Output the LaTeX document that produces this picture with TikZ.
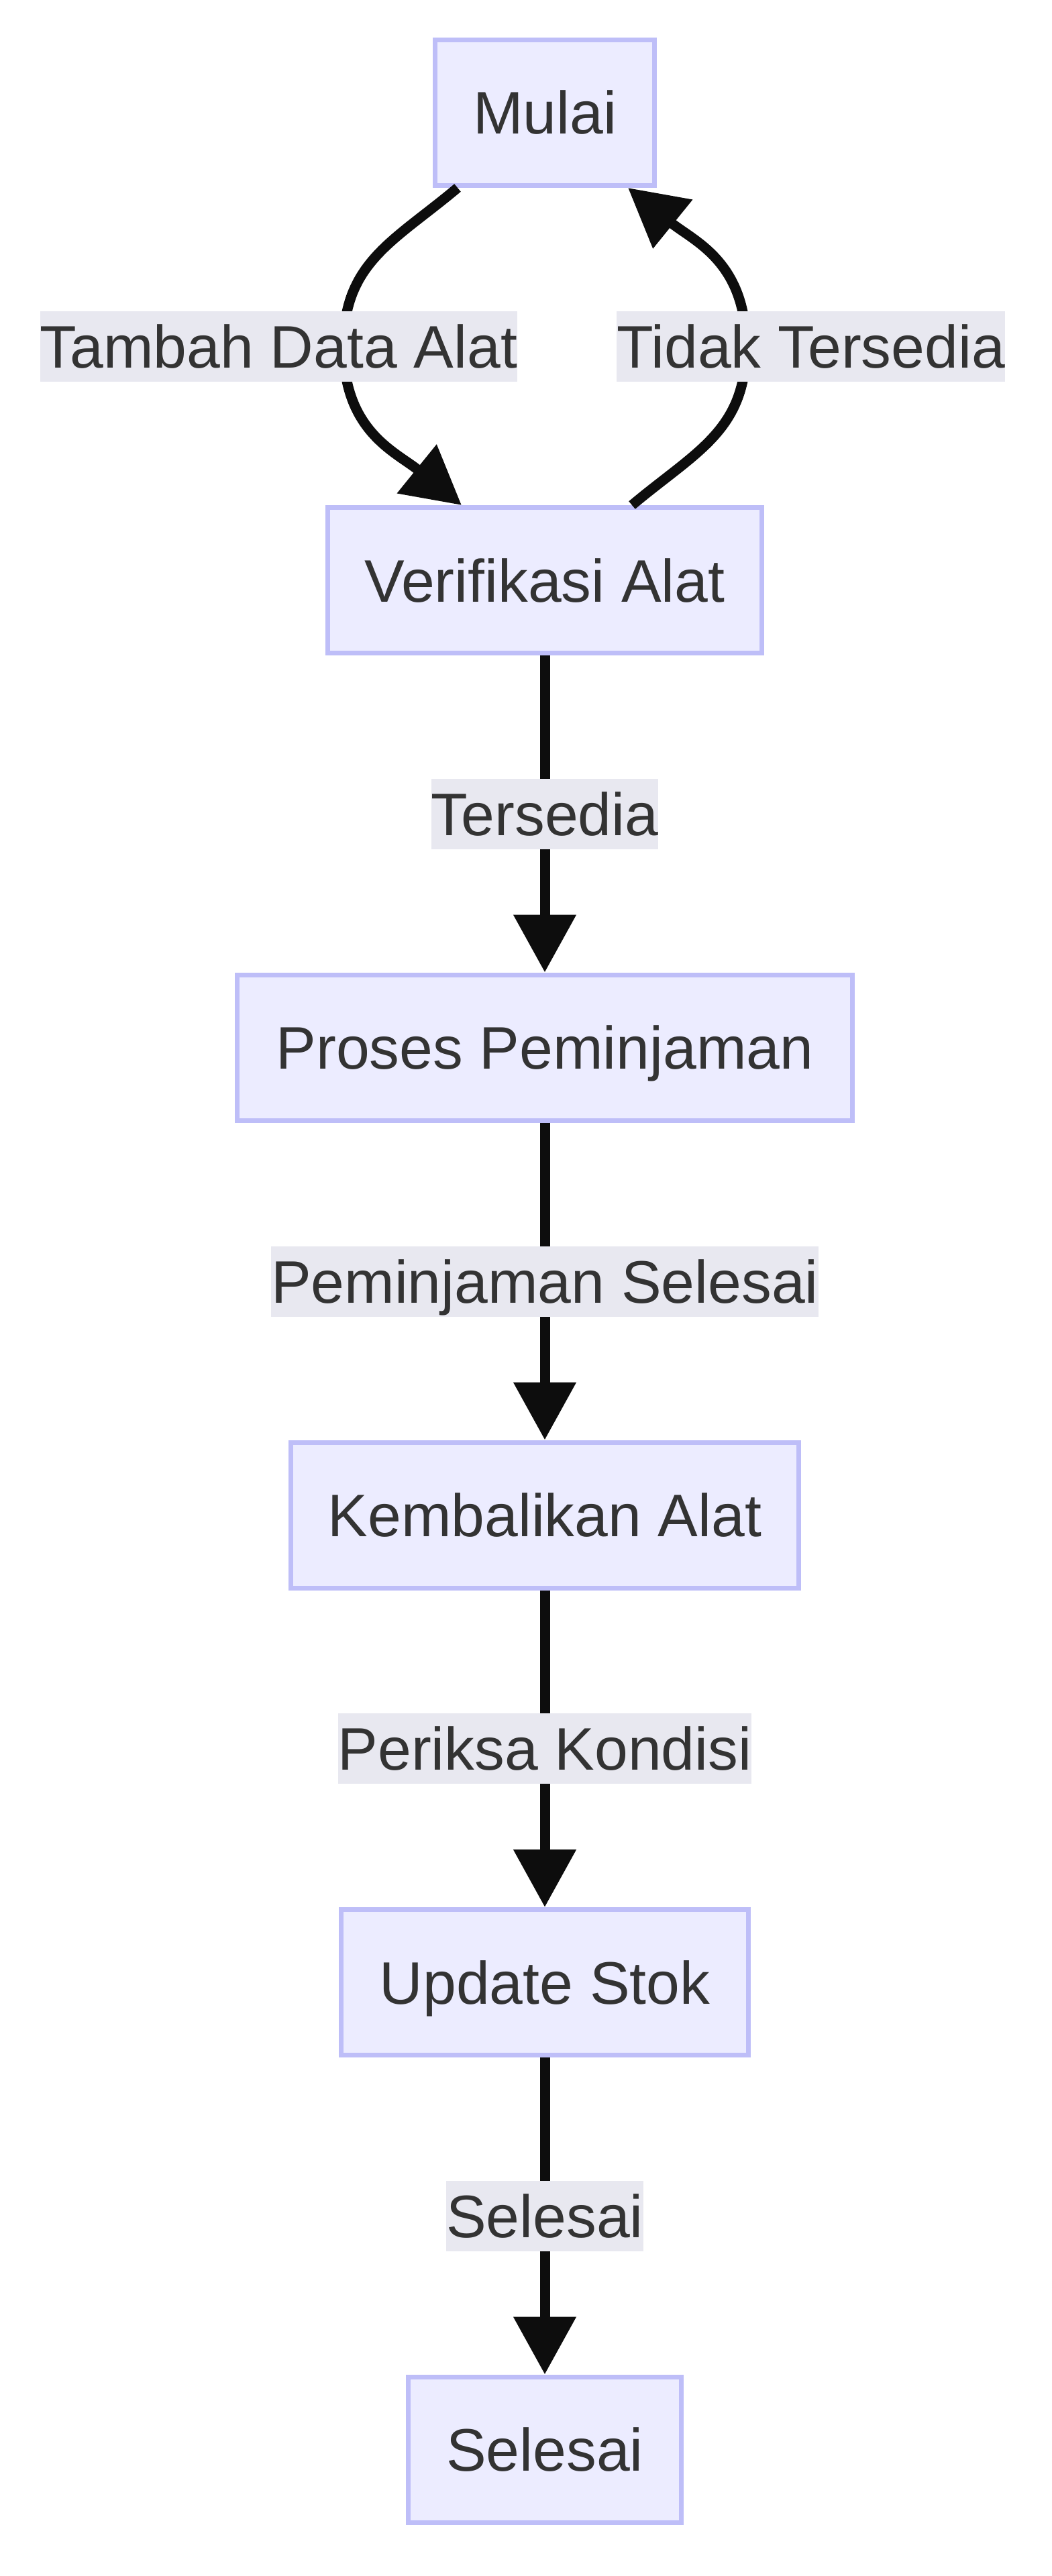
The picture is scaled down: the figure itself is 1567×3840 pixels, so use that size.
\documentclass[tikz,border=0pt]{standalone}
\usepackage{fontspec}
\setmainfont{Liberation Sans}
\usetikzlibrary{arrows.meta}
\definecolor{nodefill}{RGB}{236,236,255}
\definecolor{nodeline}{RGB}{190,190,248}
\definecolor{lblfill}{RGB}{232,232,240}
\definecolor{txt}{RGB}{51,51,51}
\definecolor{edgecol}{RGB}{13,13,13}
\begin{document}
\begin{tikzpicture}[x=1pt,y=1pt,
  box/.style={draw=nodeline, line width=7pt, fill=nodefill, minimum height=217pt,
    inner sep=0pt, text=txt, text height=64pt, text depth=0pt,
    font=\fontsize{89.5}{100}\selectfont},
  lbl/.style={fill=lblfill, inner sep=0pt, minimum height=105pt, text=txt,
    text height=64pt, text depth=0pt, font=\fontsize{89.5}{100}\selectfont},
  arr/.style={draw=edgecol, line width=15pt, -{Triangle[length=86pt,width=90pt]}}]
\fill[white] (0,0) rectangle (1567,-3840);
\useasboundingbox (0,0) rectangle (1567,-3840);

\node[box, minimum width=327pt] (mulai) at (812,-168) {Mulai};
\node[box, minimum width=647pt] (verif) at (812,-865) {Verifikasi Alat};
\node[box, minimum width=917pt] (proses) at (812,-1561.5) {Proses Peminjaman};
\node[box, minimum width=757pt] (kembali) at (812,-2258.5) {Kembalikan Alat};
\node[box, minimum width=607pt] (update) at (812,-2955) {Update Stok};
\node[box, minimum width=407pt] (selesai) at (812,-3651.5) {Selesai};

\coordinate (lmid) at (512,-516.5);
\coordinate (rmid) at (1112,-516.5);

\draw[arr] ([xshift=-130pt]mulai.south) to[out=220,in=90,looseness=1.1] (lmid)
  to[out=-90,in=141,looseness=1.1] ([xshift=-124pt]verif.north);
\draw[arr] ([xshift=130pt]verif.north) to[out=40,in=-90,looseness=1.1] (rmid)
  to[out=90,in=-39,looseness=1.1] ([xshift=124pt]mulai.south);
\draw[arr] (verif) -- (proses);
\draw[arr] (proses) -- (kembali);
\draw[arr] (kembali) -- (update);
\draw[arr] (update) -- (selesai);

\node[lbl] (l1) at (415.5,-516.5) {Tambah Data Alat};
\node[lbl] (l2) at (1208.5,-516.5) {Tidak Tersedia};
\node[lbl] (l3) at (812,-1213.25) {Tersedia};
\node[lbl] (l4) at (812,-1910) {Peminjaman Selesai};
\node[lbl] (l5) at (812,-2606.75) {Periksa Kondisi};
\node[lbl] (l6) at (812,-3303.25) {Selesai};
\end{tikzpicture}
\end{document}
